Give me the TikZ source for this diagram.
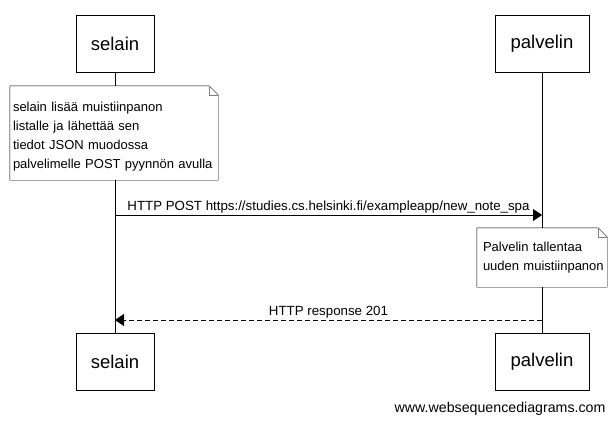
\documentclass[tikz,border=0pt]{standalone}
\usepackage{fontspec}
\setmainfont{Liberation Sans}
\usetikzlibrary{arrows.meta}

\begin{document}
\begin{tikzpicture}
	[x=1pt, y=-1pt, thin,
	actor/.style = {draw, fill=white, minimum width=78pt, minimum height=57pt, font=\fontsize{18.5}{22}\selectfont},
	note/.style = {fill=white, inner xsep=1pt, inner ysep=6pt, align=left, font=\fontsize{13}{19}\selectfont},
	msg/.style = {-{Triangle[length=9pt, width=12pt]}},
	lbl/.style = {font=\fontsize{13.3}{16}\selectfont, above, inner sep=1.5pt}]
	\useasboundingbox (0,0) rectangle (616,424);
	\node[actor] (s1) at (115,43.5) {selain};
	\node[actor, minimum width=94pt] (p1) at (542,43.5) {palvelin};
	\node[actor] (s2) at (115,361.5) {selain};
	\node[actor, minimum width=94pt] (p2) at (542,361.5) {palvelin};
	\draw (s1) -- (s2);
	\draw (p1) -- (p2);
	% notes
	\node[note, minimum width=208pt, minimum height=94pt, text width=206pt] (n1) at (114,133) {\rule{0pt}{16pt}\hspace*{2pt}selain lisää muistiinpanon\\\hspace*{2pt}listalle ja lähettää sen\\\hspace*{2pt}tiedot JSON muodossa\\\hspace*{2pt}palvelimelle POST pyynnön avulla};
	\draw (n1.north west) -- ([xshift=-9pt]n1.north east) -- ([yshift=-9pt]n1.north east) -- (n1.south east) -- (n1.south west) -- cycle;
	\draw[gray] ([xshift=-9pt]n1.north east) -- ([xshift=-9pt, yshift=-9pt]n1.north east) -- ([yshift=-9pt]n1.north east);
	\node[note, inner xsep=3pt, minimum width=130pt, minimum height=59pt, text width=124pt] (n2) at (542,257.5) {\hspace*{3pt}Palvelin tallentaa\\\hspace*{3pt}uuden muistiinpanon};
	\draw (n2.north west) -- ([xshift=-9pt]n2.north east) -- ([yshift=-9pt]n2.north east) -- (n2.south east) -- (n2.south west) -- cycle;
	\draw[gray] ([xshift=-9pt]n2.north east) -- ([xshift=-9pt, yshift=-9pt]n2.north east) -- ([yshift=-9pt]n2.north east);
	% messages
	\coordinate (a1) at (115,215);
	\coordinate (b1) at (542,215);
	\draw[msg] (a1) -- node[lbl] {HTTP POST https://studies.cs.helsinki.fi/exampleapp/new\_note\_spa} (b1);
	\coordinate (a2) at (542,320);
	\coordinate (b2) at (115,320);
	\draw[msg, dashed, dash pattern=on 5pt off 3pt] (a2) -- node[lbl] {HTTP response 201} (b2);
	\node[font=\fontsize{14.2}{17}\selectfont, anchor=east] (wsd) at (609,409) {www.websequencediagrams.com};
\end{tikzpicture}
\end{document}
